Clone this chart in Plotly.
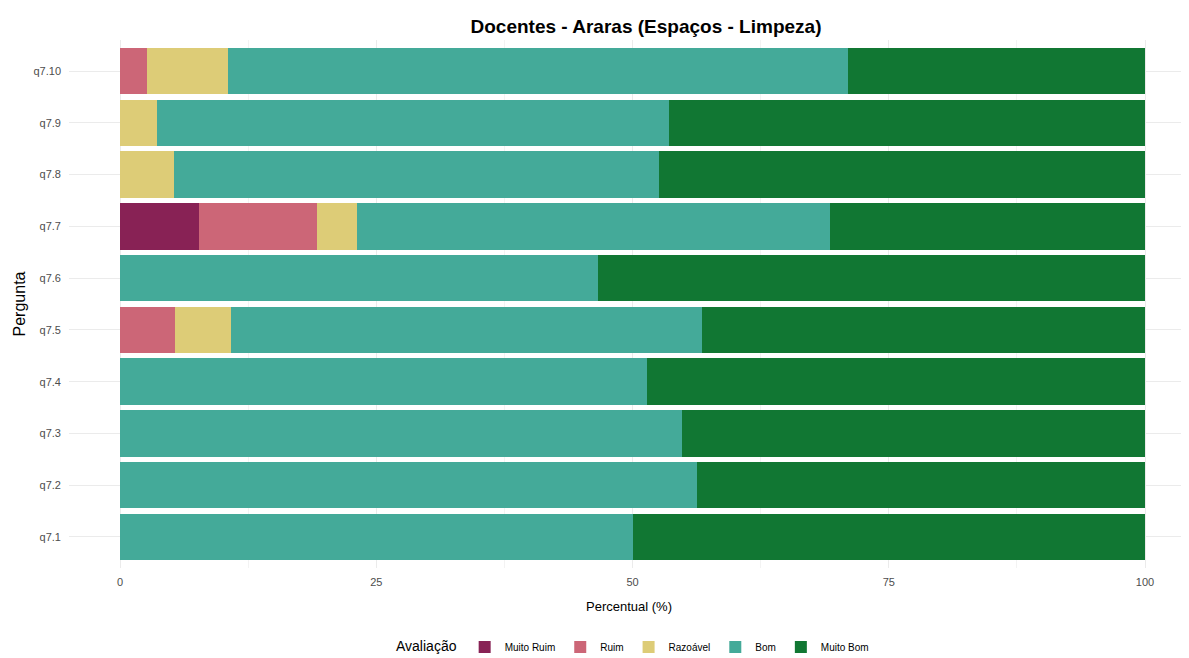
import plotly.graph_objects as go

perguntas = ["q7.1", "q7.2", "q7.3", "q7.4", "q7.5", "q7.6", "q7.7", "q7.8", "q7.9", "q7.10"]
niveis = ["Muito Ruim", "Ruim", "Razoável", "Bom", "Muito Bom"]
cores = ["#882255", "#CC6677", "#DDCC77", "#44AA99", "#117733"]

muito_ruim = [0, 0, 0, 0, 0, 0, 7.69, 0, 0, 0]
ruim = [0, 0, 0, 0, 5.41, 0, 11.54, 0, 0, 2.63]
razoavel = [0, 0, 0, 0, 5.41, 0, 3.85, 5.26, 3.57, 7.89]
bom = [50.00, 56.25, 54.84, 51.43, 45.95, 46.67, 46.15, 47.37, 50.00, 60.53]
muito_bom = [50.00, 43.75, 45.16, 48.57, 43.24, 53.33, 30.77, 47.37, 46.43, 28.95]

series = [muito_ruim, ruim, razoavel, bom, muito_bom]

# the page body adds an 8px offset, so the figure is sized to fit the window
W, H = 1181, 650

fig = go.Figure()
for nome, cor, vals in zip(niveis, cores, series):
    fig.add_trace(go.Bar(
        y=perguntas, x=vals, name=nome, orientation="h",
        marker=dict(color=cor, line=dict(width=0)),
        width=0.9,
    ))

fig.update_layout(
    barmode="stack",
    width=W, height=H,
    paper_bgcolor="white", plot_bgcolor="white",
    font=dict(family="Liberation Sans, Arial, sans-serif", color="#333333"),
    margin=dict(l=61, r=0, t=32, b=90, autoexpand=False),
    title=dict(text="<b>Docentes - Araras (Espaços - Limpeza)</b>", x=638 / W, xanchor="center",
               xref="container", y=1 - 18 / H, yanchor="middle", yref="container",
               font=dict(size=19, color="black")),
    xaxis=dict(
        range=[-4.976, 104.29], tickvals=[0, 25, 50, 75, 100], automargin=False,
        showgrid=True, gridcolor="#EBEBEB", gridwidth=1, zeroline=False,
        minor=dict(tickvals=[12.5, 37.5, 62.5, 87.5], showgrid=True, gridcolor="#F3F3F3", gridwidth=1),
        tickfont=dict(size=11, color="#4D4D4D"), ticks="", ticklabelstandoff=6,
        title=dict(text="Percentual (%)", font=dict(size=13, color="black"), standoff=14),
    ),
    yaxis=dict(
        categoryorder="array", categoryarray=perguntas, range=[-0.6, 9.6], automargin=False,
        showgrid=True, gridcolor="#EBEBEB", gridwidth=1, zeroline=False,
        tickfont=dict(size=11, color="#4D4D4D"), ticks="", ticklabelstandoff=7,
        title=dict(text="Pergunta", font=dict(size=16, color="black"), standoff=3),
    ),
    legend=dict(
        orientation="h", x=626 / W, xanchor="center", xref="container",
        y=11 / H, yanchor="middle", yref="container",
        title=dict(text="Avaliação", font=dict(size=14, color="black")),
        font=dict(size=10, color="black"), traceorder="normal",
        itemwidth=30, entrywidthmode="pixels",
    ),
    bargap=0.1,
)

fig.write_html("out.html")
